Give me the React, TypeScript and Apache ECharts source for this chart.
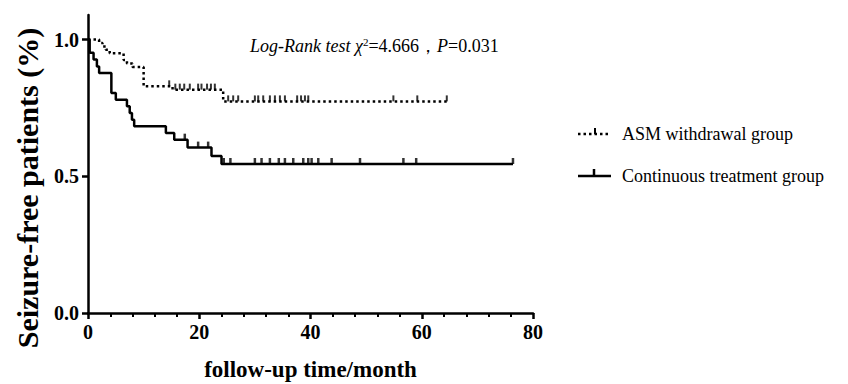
import React, { useEffect, useRef } from "react";
import * as echarts from "echarts";

// ASM withdrawal group: event times (months) and survival after each step
const asmTimes = [0, 2.0, 2.6, 3.2, 3.9, 6.4, 7.0, 8.0, 10.0, 15.2, 24.3, 64.5];
const asmSurv = [1.0, 0.988, 0.975, 0.963, 0.95, 0.925, 0.913, 0.9, 0.829, 0.817, 0.774, 0.774];
const asmCensored = [14.6, 15.7, 16.5, 17.3, 18.3, 19.8, 20.4, 21.4, 22.1, 22.8, 25.2, 26.1, 27.0, 30.0, 30.6, 31.5, 32.7, 33.6, 34.5, 35.4, 37.6, 38.3, 39.0, 39.6, 54.9, 59.2, 64.5];

// Continuous treatment group
const ctTimes = [0, 0.3, 1.0, 1.6, 2.0, 4.2, 5.0, 7.0, 7.5, 7.9, 8.3, 14.0, 15.5, 17.9, 22.2, 24.0, 76.4];
const ctSurv = [1.0, 0.952, 0.927, 0.902, 0.878, 0.805, 0.78, 0.756, 0.732, 0.707, 0.683, 0.658, 0.634, 0.605, 0.574, 0.545, 0.545];
const ctCensored = [17.4, 19.8, 21.6, 24.4, 25.6, 30.0, 31.2, 32.7, 34.3, 35.4, 36.9, 38.7, 39.6, 40.2, 41.4, 43.8, 48.9, 56.7, 59.0, 76.4];

const yTickValues = [0, 0.5, 1.0];
const seriesNames = ["ASM withdrawal group", "Continuous treatment group"];

const FONT = "Liberation Serif";

function levelAt(times: number[], surv: number[], t: number): number {
  let s = surv[0];
  for (let i = 0; i < times.length; i++) {
    if (times[i] <= t) s = surv[i];
  }
  return s;
}

export default function App() {
  const ref = useRef<HTMLDivElement>(null);
  useEffect(() => {
    if (!ref.current) return;
    const chart = echarts.init(ref.current, null, { renderer: "svg" });
    const asmLine = asmTimes.map((t, i) => [t, asmSurv[i]]);
    const ctLine = ctTimes.map((t, i) => [t, ctSurv[i]]);
    const asmCens = asmCensored.map((t) => [t, levelAt(asmTimes, asmSurv, t)]);
    const ctCens = ctCensored.map((t) => [t, levelAt(ctTimes, ctSurv, t)]);

    chart.setOption({
      animation: false,
      backgroundColor: "#fff",
      grid: { left: 88, right: 315, top: 15, bottom: 71, outerBoundsMode: "none", containLabel: false },
      xAxis: {
        type: "value",
        min: 0,
        max: 80,
        interval: 20,
        name: "follow-up time/month",
        nameLocation: "middle",
        nameGap: 45,
        nameTextStyle: { fontFamily: FONT, fontWeight: "bold", fontSize: 23, color: "#000" },
        axisLine: { show: true, lineStyle: { color: "#000", width: 2.5 } },
        axisTick: { show: true, length: 6, lineStyle: { color: "#000", width: 2.5 } },
        minorTick: { show: true, splitNumber: 5, length: 4, lineStyle: { color: "#000", width: 2 } },
        axisLabel: { margin: 9, fontFamily: FONT, fontWeight: "bold", fontSize: 20, color: "#000" },
        splitLine: { show: false },
      },
      yAxis: {
        type: "value",
        min: 0,
        max: 1.09,
        axisLine: { show: true, lineStyle: { color: "#000", width: 2.5 } },
        axisTick: { show: true, length: 6, customValues: yTickValues, lineStyle: { color: "#000", width: 2.5 } },
        axisLabel: {
          margin: 9,
          customValues: yTickValues,
          formatter: (v: number) => v.toFixed(1),
          fontFamily: FONT,
          fontWeight: "bold",
          fontSize: 20,
          color: "#000",
        },
        splitLine: { show: false },
      },
      series: [
        {
          name: seriesNames[0],
          type: "line",
          step: "end",
          data: asmLine,
          showSymbol: false,
          symbol: "none",
          lineStyle: { color: "#000", width: 2.5, type: [2.5, 3] },
          z: 3,
        },
        {
          name: seriesNames[1],
          type: "line",
          step: "end",
          data: ctLine,
          showSymbol: false,
          symbol: "none",
          lineStyle: { color: "#000", width: 2.5, type: "solid" },
          z: 3,
        },
        {
          name: seriesNames[0] + " censored",
          type: "scatter",
          data: asmCens,
          symbol: "rect",
          symbolSize: [2, 6],
          symbolOffset: [0, -3],
          itemStyle: { color: "#000" },
          z: 4,
        },
        {
          name: seriesNames[1] + " censored",
          type: "scatter",
          data: ctCens,
          symbol: "rect",
          symbolSize: [2.5, 6],
          symbolOffset: [0, -3],
          itemStyle: { color: "#000" },
          z: 4,
        },
      ],
      graphic: [
        {
          type: "text",
          x: 27,
          y: 188,
          rotation: Math.PI / 2,
          style: {
            text: "Seizure-free patients (%)",
            fontFamily: FONT,
            fontWeight: "bold",
            fontSize: 30,
            fill: "#000",
            align: "center",
            verticalAlign: "middle",
          },
        },
        {
          type: "text",
          x: 250,
          y: 46,
          style: {
            text: "{i|Log-Rank test χ}{s|2}{n|=4.666，}{i|P}{n|=0.031}",
            verticalAlign: "middle",
            rich: {
              i: { fontFamily: FONT, fontStyle: "italic", fontSize: 18, fill: "#000" },
              s: { fontFamily: FONT, fontSize: 11, fill: "#000", verticalAlign: "top", padding: [0, 0, 8, 0] },
              n: { fontFamily: FONT, fontSize: 18, fill: "#000" },
            },
          },
        },
        {
          type: "line",
          shape: { x1: 578, y1: 134, x2: 611, y2: 134 },
          style: { stroke: "#000", lineWidth: 2.5, lineDash: [2.5, 3] },
        },
        {
          type: "line",
          shape: { x1: 595, y1: 134, x2: 595, y2: 128 },
          style: { stroke: "#000", lineWidth: 2 },
        },
        {
          type: "text",
          x: 622,
          y: 134,
          style: { text: seriesNames[0], fontFamily: FONT, fontSize: 18, fill: "#000", verticalAlign: "middle" },
        },
        {
          type: "line",
          shape: { x1: 578, y1: 176, x2: 611, y2: 176 },
          style: { stroke: "#000", lineWidth: 2.5 },
        },
        {
          type: "line",
          shape: { x1: 594, y1: 176, x2: 594, y2: 169 },
          style: { stroke: "#000", lineWidth: 2.5 },
        },
        {
          type: "text",
          x: 622,
          y: 176,
          style: { text: seriesNames[1], fontFamily: FONT, fontSize: 18, fill: "#000", verticalAlign: "middle" },
        },
      ],
    });
    return () => chart.dispose();
  }, []);
  return <div ref={ref} style={{ width: 848, height: 384, position: "absolute", left: 0, top: 0 }} />;
}
